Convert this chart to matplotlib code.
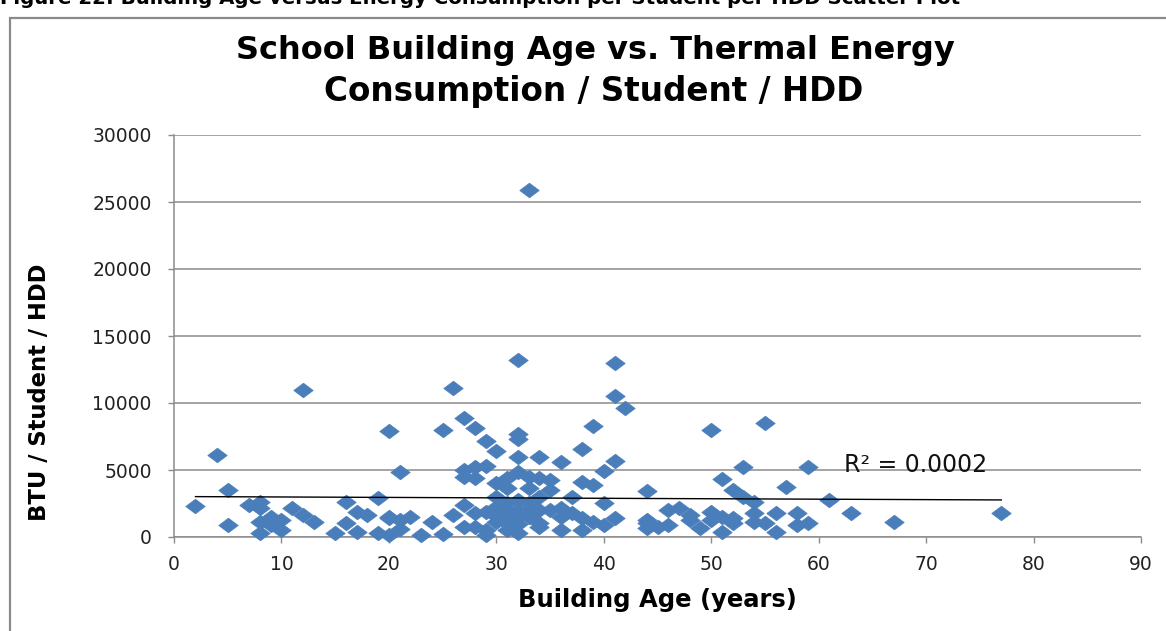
import numpy as np
import matplotlib
matplotlib.use('Agg')
import matplotlib.pyplot as plt
from matplotlib.patches import Rectangle

# 建筑年龄 (years) 与 BTU / Student / HDD
age = [2, 4, 5, 5, 7, 8, 8, 8, 8, 9, 9, 10, 10, 11, 12, 12, 13, 15, 16, 16,
       17, 17, 18, 19, 19, 20, 20, 20, 20, 21, 21, 21, 22, 23, 24, 25, 25, 26, 26, 27,
       27, 27, 27, 27, 28, 28, 28, 28, 28, 29, 29, 29, 29, 29, 30, 30, 30, 30, 30, 30,
       30, 31, 31, 31, 31, 31, 31, 31, 32, 32, 32, 32, 32, 32, 32, 32, 32, 32, 33, 33,
       33, 33, 33, 33, 34, 34, 34, 34, 34, 34, 35, 35, 35, 36, 36, 36, 36, 37, 37, 38,
       38, 38, 38, 39, 39, 39, 40, 40, 40, 41, 41, 41, 41, 42, 44, 44, 44, 44, 45, 46,
       46, 47, 48, 48, 49, 50, 50, 50, 51, 51, 51, 52, 52, 52, 53, 53, 54, 54, 54, 55,
       55, 56, 56, 57, 58, 58, 59, 59, 61, 63, 67, 77]
btu = [2300, 6100, 3500, 900, 2400, 2600, 2150, 1150, 320, 1500, 900, 1270, 520, 2150, 11000, 1640, 1140, 280, 2630, 1020,
       1890, 400, 1640, 2930, 280, 7900, 1510, 1450, 150, 4850, 1300, 600, 1510, 150, 1100, 8000, 200, 11100, 1650, 8900,
       5000, 4500, 2400, 770, 8100, 5200, 4400, 1770, 770, 7200, 5300, 1890, 520, 150, 6400, 4000, 3000, 2260, 2010, 1140,
       1600, 4380, 3630, 2510, 2000, 1510, 1020, 520, 13200, 7700, 7300, 6000, 4870, 2760, 2000, 1510, 1000, 280, 25900, 4500,
       3630, 2510, 2000, 1510, 6000, 4400, 3000, 2010, 1020, 770, 4250, 3500, 2010, 5600, 2200, 1510, 520, 3000, 1770, 6550,
       4130, 1450, 520, 8300, 3880, 1100, 4900, 2510, 900, 12950, 10500, 5670, 1400, 9600, 3400, 1270, 1020, 650, 770, 2010,
       900, 2140, 1640, 1270, 650, 8000, 1890, 1270, 4300, 1510, 400, 3500, 1400, 1020, 5200, 3000, 2630, 1770, 1140, 8500,
       1020, 1770, 400, 3700, 1770, 900, 5200, 1020, 2750, 1770, 1100, 1800]

# 图上读出的线性趋势线 (y = slope * x + intercept)
trend_slope = -3.3
trend_intercept = 3020
r2_text = 'R² = 0.0002'

x_ticks = list(range(0, 100, 10))
y_ticks = list(range(0, 35000, 5000))

blue = '#4A7EBB'
grid_c = '#8C8C8C'

fig = plt.figure(figsize=(11.66, 6.31), dpi=100)
W, H = 1166, 631

# 外框
fig.patches.append(Rectangle((10 / W, -0.1), 1.2, 1 - 18 / H + 0.1, transform=fig.transFigure,
                             fill=False, edgecolor='#8A8A8A', linewidth=1.6))

# 被截掉一半的图注
fig.text(0, 1 - 4 / H, 'Figure 22: Building Age versus Energy Consumption per Student per HDD Scatter Plot',
         fontsize=14.2, fontweight='bold', ha='left', va='baseline')

ax = fig.add_axes([174 / W, 1 - 537 / H, (1141 - 174) / W, (537 - 135) / H])
ax.set_xlim(0, 90)
ax.set_ylim(0, 30000)
ax.set_xticks(x_ticks)
ax.set_yticks(y_ticks)
ax.set_xticklabels([str(v) for v in x_ticks])
ax.set_yticklabels([str(v) for v in y_ticks])
ax.yaxis.grid(True, color=grid_c, linewidth=1.1)
ax.set_axisbelow(True)
for s in ['top', 'right']:
    ax.spines[s].set_visible(False)
for s in ['left', 'bottom']:
    ax.spines[s].set_color(grid_c)
    ax.spines[s].set_linewidth(1.1)
ax.tick_params(axis='both', colors=grid_c, length=4, width=1.0, labelsize=13.5, labelcolor='#222222')
ax.tick_params(axis='y', pad=12)
ax.tick_params(axis='x', pad=9)

diamond = [(-1, 0), (0, 0.75), (1, 0), (0, -0.75), (-1, 0)]
ax.plot(age, btu, linestyle='none', marker=diamond, markersize=14,
        markerfacecolor=blue, markeredgecolor=blue, markeredgewidth=0.5, clip_on=False, zorder=3)

# 线性趋势线
xs = np.array([min(age), max(age)])
ax.plot(xs, trend_slope * xs + trend_intercept, color='black', linewidth=1.0, zorder=4)
ax.text(62.4, 5400, r2_text, fontsize=17, ha='left', va='center', color='#111111')

fig.text(595 / W, 1 - 50 / H, 'School Building Age vs. Thermal Energy',
         fontsize=23, fontweight='bold', ha='center', va='center')
fig.text(594 / W, 1 - 92 / H, 'Consumption / Student / HDD',
         fontsize=23.5, fontweight='bold', ha='center', va='center')
fig.text(657 / W, 1 - 600 / H, 'Building Age (years)', fontsize=17.5, fontweight='bold',
         ha='center', va='center')
fig.text(40 / W, 1 - 392 / H, 'BTU / Student / HDD', fontsize=16.3, fontweight='bold',
         ha='center', va='center', rotation=90)

fig.savefig('out.png', dpi=100)
